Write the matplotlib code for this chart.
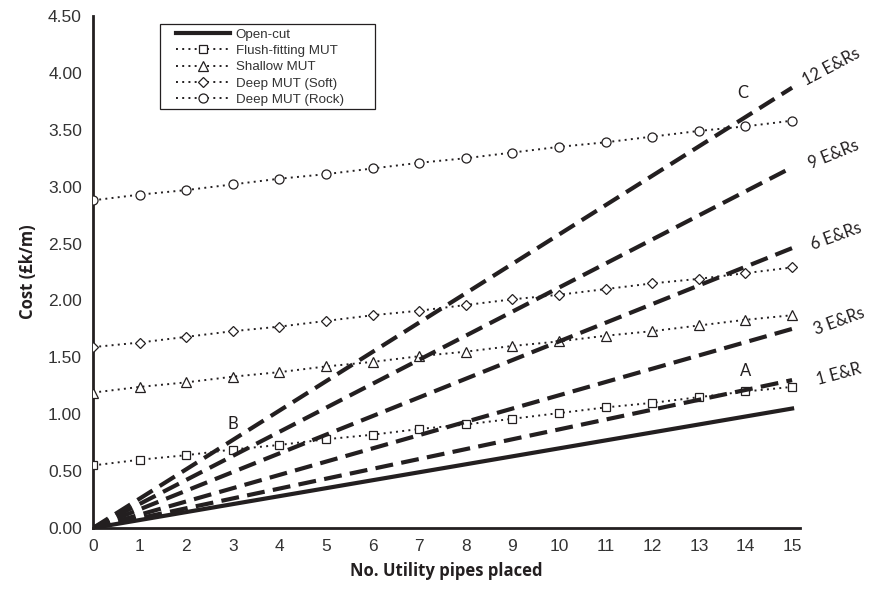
import matplotlib
matplotlib.use("Agg")
import matplotlib.pyplot as plt
from matplotlib.patches import Rectangle

# data
pipes = list(range(16))
open_cut = [0.00, 0.07, 0.14, 0.21, 0.28, 0.35, 0.42, 0.49, 0.56, 0.63, 0.70, 0.77, 0.84, 0.91, 0.98, 1.05]
flush = [0.55, 0.60, 0.64, 0.69, 0.73, 0.78, 0.82, 0.87, 0.91, 0.96, 1.01, 1.06, 1.10, 1.15, 1.20, 1.24]
shallow = [1.19, 1.24, 1.28, 1.33, 1.37, 1.42, 1.46, 1.51, 1.55, 1.60, 1.64, 1.69, 1.73, 1.78, 1.83, 1.87]
deep_soft = [1.59, 1.63, 1.68, 1.73, 1.77, 1.82, 1.87, 1.91, 1.96, 2.01, 2.05, 2.10, 2.15, 2.19, 2.24, 2.29]
deep_rock = [2.88, 2.93, 2.97, 3.02, 3.07, 3.11, 3.16, 3.21, 3.25, 3.30, 3.35, 3.39, 3.44, 3.49, 3.53, 3.58]

# E&R lines: end values at 15 pipes
er_labels = ["1 E&R", "3 E&Rs", "6 E&Rs", "9 E&Rs", "12 E&Rs"]
er_end = [1.30, 1.75, 2.46, 3.17, 3.87]
er_label_pos = [(16.0, 1.35), (16.0, 1.82), (15.95, 2.56), (15.9, 3.28), (15.85, 4.05)]
er_label_rot = [15, 20, 20, 22, 28]

letters = ["A", "B", "C"]
letter_pos = [(14.0, 1.38), (3.0, 0.91), (13.95, 3.82)]

ink = "#231f20"

fig = plt.figure(figsize=(8.75, 5.93), dpi=100)
ax = fig.add_axes([0.1063, 0.1096, 0.8080, 0.8634])

# dashed E&R lines drawn over the marker series
for end in er_end:
    ax.plot([0, 15], [0, end], color=ink, lw=3, dashes=(4.3, 2), zorder=5)

ax.plot(pipes, open_cut, color=ink, lw=3, label="Open-cut", zorder=5)
mk = dict(color=ink, lw=1.4, linestyle=(0, (1, 2.2)), markerfacecolor="white",
          markeredgecolor=ink, markeredgewidth=0.9, zorder=3)
ax.plot(pipes, flush, marker="s", markersize=6, label="Flush-fitting MUT", **mk)
ax.plot(pipes, shallow, marker="^", markersize=6.5, label="Shallow MUT", **mk)
ax.plot(pipes, deep_soft, marker="D", markersize=5, label="Deep MUT (Soft)", **mk)
ax.plot(pipes, deep_rock, marker="o", markersize=6.5, label="Deep MUT (Rock)", **mk)

for lab, (x, y), rot in zip(er_labels, er_label_pos, er_label_rot):
    ax.text(x, y, lab, rotation=rot, ha="center", va="center", fontsize=12,
            family="Lato", color=ink, clip_on=False)
for lab, (x, y) in zip(letters, letter_pos):
    ax.text(x, y, lab, ha="center", va="center", fontsize=12, family="Lato", color=ink)

ax.set_xlim(0, 15.17)
ax.set_ylim(0, 4.5)
ax.set_xticks(range(16))
ax.set_yticks([i * 0.5 for i in range(10)])
ax.set_yticklabels(["%.2f" % (i * 0.5) for i in range(10)])
ax.tick_params(length=0, labelsize=12.5, pad=8)
for t in ax.get_xticklabels() + ax.get_yticklabels():
    t.set_family("Liberation Sans")
    t.set_color("#333333")
ax.spines["top"].set_visible(False)
ax.spines["right"].set_visible(False)
for s in ("left", "bottom"):
    ax.spines[s].set_linewidth(2)
    ax.spines[s].set_color(ink)

ax.set_xlabel("No. Utility pipes placed", fontsize=12, fontweight="bold", family="Open Sans",
              color=ink, labelpad=6)
ax.set_ylabel("Cost (£k/m)", fontsize=12, fontweight="bold", family="Open Sans",
              color=ink, labelpad=8)

# legend without its own frame, boxed by a wider rectangle as in the original
leg = ax.legend(loc="upper left", bbox_to_anchor=(0.118, 0.976),
                prop={"family": "Liberation Sans", "size": 9.6}, frameon=False,
                handlelength=4.0, labelspacing=0.3, borderpad=0,
                handletextpad=0.45, borderaxespad=0)
for t in leg.get_texts():
    t.set_color("#333333")
ax.add_patch(Rectangle((0.0948, 0.818), 0.304, 0.166, transform=ax.transAxes,
                       fill=False, edgecolor=ink, lw=0.9, zorder=6, clip_on=False))

fig.savefig("out.png", dpi=100)
